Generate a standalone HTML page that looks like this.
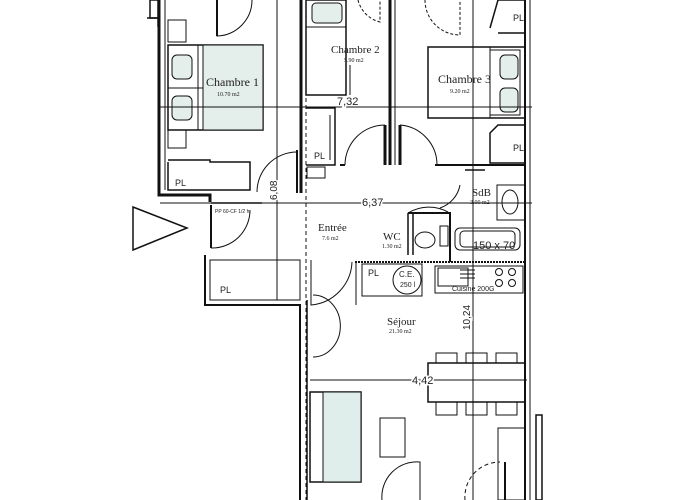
<!DOCTYPE html>
<html><head><meta charset="utf-8"><style>
html,body{margin:0;padding:0;background:#fff;width:700px;height:500px;overflow:hidden}
svg{display:block}
text{font-family:"Liberation Serif",serif;fill:#222}
.s{font-family:"Liberation Sans",sans-serif}
.d{paint-order:stroke;stroke:#fff;stroke-width:3}
</style></head><body>
<svg width="700" height="500" viewBox="0 0 700 500" xmlns="http://www.w3.org/2000/svg">
<g stroke="#111" fill="none" stroke-width="1">
<rect x="150" y="0" width="8" height="18" fill="#fff" stroke-width="1.5"/>
<path d="M147 18 H158 V27" stroke-width="1.5"/>
<path d="M159 0 V195 H210 V202" stroke-width="3"/>
<path d="M165 0 V190" stroke-width="1"/>
<path d="M168 162 V190 H250 V162 H210 V160 H168" stroke-width="1.5"/>
<rect x="168" y="130" width="18" height="18"/>
<rect x="168" y="20" width="18" height="22"/>
<rect x="168" y="45" width="95" height="85" stroke-width="1.5"/>
<rect x="203" y="45" width="60" height="85" fill="#e4eeea"/>
<line x1="198" y1="45" x2="198" y2="130"/>
<line x1="168" y1="88" x2="203" y2="88"/>
<rect x="172" y="55" width="20" height="24" rx="5" fill="#e4eeea"/>
<rect x="172" y="96" width="20" height="24" rx="5" fill="#e4eeea"/>
<path d="M217 0 V36 A36 36 0 0 0 252 0"/>
<line x1="217" y1="0" x2="217" y2="36" stroke-width="2"/>
<path d="M301 0 V193" stroke-width="3"/>
<path d="M306 0 V500" stroke-dasharray="4 3"/>
<path d="M390 0 V165" stroke-width="3"/>
<path d="M395 0 V165"/>
<path d="M277 0 V300"/>
<path d="M473 0 V500"/>
<path d="M525 0 V500" stroke-width="2"/>
<path d="M530 0 V500"/>
<rect x="306" y="0" width="40" height="95" stroke-width="1.5"/>
<rect x="312" y="3" width="30" height="20" rx="4" fill="#e4eeea"/>
<line x1="306" y1="27" x2="346" y2="27"/>
<path d="M346 65 V95 M350 65 V95"/>
<path d="M358 0 A30 30 0 0 0 380 22 V0" stroke-dasharray="3 2"/>
<path d="M425 0 A35 35 0 0 0 460 35 V0" stroke-dasharray="3 2"/>
<rect x="428" y="47" width="97" height="71" stroke-width="1.5"/>
<rect x="490" y="50" width="30" height="65" fill="#fff"/>
<rect x="500" y="55" width="18" height="24" rx="5" fill="#e4eeea"/>
<rect x="500" y="88" width="18" height="24" rx="5" fill="#e4eeea"/>
<line x1="490" y1="47" x2="490" y2="118"/>
<path d="M525 0 H498 L490 28 M498 33 H525" stroke-width="1.5"/>
<path d="M525 125 H498 L490 133 V163 H525" stroke-width="1.5"/>
<path d="M306 108 H335 V165 H306" stroke-width="1.5"/>
<path d="M330 115 V160"/>
<path d="M307 167 H325 V178 H307 Z"/>
<path d="M340 165 H345 M435 165 H525" stroke-width="2"/>
<path d="M345 165 A40 40 0 0 1 385 125"/>
<path d="M400 125 A40 40 0 0 1 437 165"/>
<path d="M385 125 V165 M400 125 V165" stroke-width="3"/>
<path d="M257 192 A40 40 0 0 1 297 152"/>
<path d="M297 150 V193" stroke-width="2"/>
<line x1="160" y1="107" x2="532" y2="107"/>
<line x1="160" y1="203" x2="532" y2="203"/>
<line x1="310" y1="380" x2="527" y2="380"/>
<path d="M211 203 H262" stroke-width="1.5"/>
<path d="M211 205 V248" stroke-width="2"/>
<path d="M211 248 A38 38 0 0 0 250 210"/>
<polygon points="133,207 187,228 133,250" stroke-width="1.5" fill="#fff"/>
<path d="M408 213 V255 M413 213 V255" stroke-width="1.5"/>
<path d="M408 213 A40 40 0 0 1 448 212"/>
<path d="M408 213 H450 V262" stroke-width="2"/>
<ellipse cx="425" cy="240" rx="10" ry="8"/>
<rect x="440" y="226" width="8" height="20"/>
<rect x="497" y="185" width="28" height="35"/>
<ellipse cx="510" cy="202" rx="8" ry="12"/>
<rect x="455" y="228" width="65" height="22" rx="5"/>
<rect x="460" y="231" width="55" height="16" rx="4"/>
<path d="M465 170 H485" stroke-width="1.5"/>
<path d="M460 185 A30 30 0 0 1 440 208"/>
<path d="M355 262 H525" stroke-width="2" stroke-dasharray="2 1"/>
<rect x="362" y="264" width="60" height="32"/>
<circle cx="407" cy="280" r="14"/>
<rect x="435" y="266" width="88" height="27"/>
<rect x="438" y="268" width="30" height="18"/>
<path d="M460 270 H475 M460 274 H475 M460 278 H475"/>
<circle cx="499" cy="272" r="3.5"/><circle cx="512" cy="272" r="3.5"/>
<circle cx="499" cy="283" r="3.5"/><circle cx="512" cy="283" r="3.5"/>
<path d="M205 255 V305 H300 V500" stroke-width="2"/>
<path d="M210 260 H300 V300 H210 Z"/>
<path d="M311 260 V305 A45 45 0 0 0 352 262"/>
<path d="M356 262 V305"/>
<path d="M313 295 A15 17 0 0 1 313 357"/>
<path d="M307 300 V500" stroke-width="1.5"/>
<rect x="310" y="392" width="51" height="90" stroke-width="1.5"/>
<rect x="323" y="392" width="38" height="90" fill="#dfeeea"/>
<rect x="380" y="418" width="25" height="39"/>
<rect x="428" y="363" width="97" height="39" stroke-width="1.5"/>
<rect x="436" y="353" width="21" height="10"/><rect x="466" y="353" width="21" height="10"/><rect x="496" y="353" width="21" height="10"/>
<rect x="436" y="402" width="21" height="13"/><rect x="466" y="402" width="21" height="13"/><rect x="496" y="402" width="21" height="13"/>
<rect x="536" y="415" width="6" height="85" stroke-width="1.5"/>
<rect x="498" y="428" width="27" height="72"/>
<path d="M382 500 A35 35 0 0 1 420 462 V500"/>
<path d="M465 500 A35 35 0 0 1 500 462" stroke-dasharray="4 3"/>
<path d="M505 462 V500" stroke-width="2"/>
</g>
<text x="206" y="86" font-size="12">Chambre 1</text>
<text x="217" y="96" font-size="6">10.70 m2</text>
<text x="331" y="53" font-size="11">Chambre 2</text>
<text x="344" y="62" font-size="6">5.90 m2</text>
<text x="438" y="83" font-size="12">Chambre 3</text>
<text x="450" y="93" font-size="6">9.20 m2</text>
<text x="337" y="105" font-size="11" class="s d">7,32</text>
<text x="362" y="206" font-size="11" class="s d">6,37</text>
<text x="412" y="384" font-size="11" class="s d">4,42</text>
<text x="318" y="231" font-size="11">Entrée</text>
<text x="322" y="240" font-size="6">7.6 m2</text>
<text x="383" y="240" font-size="11">WC</text>
<text x="382" y="248" font-size="6">1.30 m2</text>
<text x="472" y="196" font-size="11">SdB</text>
<text x="470" y="204" font-size="6">3.00 m2</text>
<text x="473" y="249" font-size="11" class="s">150 x 70</text>
<text x="387" y="325" font-size="11">Séjour</text>
<text x="389" y="333" font-size="6">21.30 m2</text>
<text x="175" y="186" font-size="9" class="s">PL</text>
<text x="314" y="159" font-size="9" class="s">PL</text>
<text x="513" y="21" font-size="9" class="s">PL</text>
<text x="513" y="151" font-size="9" class="s">PL</text>
<text x="220" y="293" font-size="9" class="s">PL</text>
<text x="368" y="276" font-size="9" class="s">PL</text>
<text x="399" y="277" font-size="8" class="s">C.E.</text>
<text x="400" y="287" font-size="7" class="s">250 l</text>
<text x="452" y="291" font-size="7" class="s">Cuisine 200G</text>
<text x="215" y="213" font-size="5" class="s">PP 60-CF 1/2 h</text>
<text x="0" y="0" font-size="10" class="s d" transform="translate(277,200) rotate(-90)">6,08</text>
<text x="0" y="0" font-size="10" class="s d" transform="translate(470,330) rotate(-90)">10,24</text>
</svg>
</body></html>
